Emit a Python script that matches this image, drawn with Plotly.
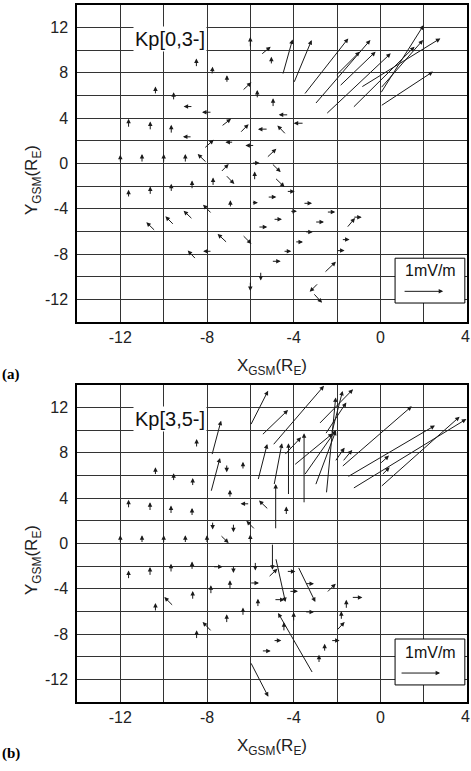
import plotly.graph_objects as go

# ---------------- data (tail x, tail y, dx, dy in axis units R_E) ----------------
# Panel (a) Kp[0,3-]
a_x = [-8.49, -7.77, -7.08, -10.38, -9.54, -8.65, -7.77, -11.62, -10.62, -9.65,
       -7.35, -8.69, -8.15, -6.77, -12.0, -11.0, -10.0, -9.0, -8.0, -7.38,
       -7.15, -11.62, -10.62, -9.65, -8.69, -7.72, -6.92, -7.77, -8.65, -9.51,
       -10.37, -7.05, -8.49, -7.77,
       -6.0, -5.52, -5.03, -6.38, -5.68, -4.95, -4.23, -3.52, -6.49, -5.18,
       -4.34, -5.8, -5.26, -5.95, -5.03, -5.8, -4.88, -4.34, -5.22, -5.95,
       -3.57, -4.18, -2.49, -4.95, -3.03, -1.56, -1.27, -5.65, -3.49, -6.38,
       -3.95, -1.8, -4.49, -2.06, -5.03, -2.6, -5.52, -6.0, -2.85, -3.11,
       -4.51, -4.0, -3.53, -3.03, -2.52, -2.08, -1.9, -1.29, 0.0, 0.0, -0.9, 0.0]
a_y = [8.45, 7.81, 7.07, 6.05, 5.52, 5.02, 4.52, 3.11, 2.88, 2.59,
       3.26, 2.35, 1.30, 1.88, 0.04, 0.04, 0.04, 0.04, 0.04, -0.79,
       -0.99, -3.04, -2.81, -2.55, -2.31, -2.02, -3.92, -4.45, -4.95, -5.45,
       -5.98, -7.03, -8.47, -7.74,
       10.2, 9.57, 8.69, 6.40, 5.70, 4.93, 4.29, 3.55, 2.67, 3.03,
       2.53, 1.59, 0.48, 0.04, 0.04, -1.52, -1.23, -2.46, -2.96, -3.45,
       -3.51, -4.22, -4.28, -4.92, -5.16, -5.70, -4.73, -5.6, -6.03, -6.27,
       -6.91, -6.71, -7.74, -7.68, -8.62, -9.66, -9.5, -10.38, -10.52, -11.4,
       7.80, 7.07, 6.04, 5.20, 4.32, 7.70, 6.78, 4.87, 5.05, 6.15, 6.7, 6.6]
a_u = [0.0, 0.03, 0.0, 0.0, 0.0, -0.43, -0.46, 0.0, 0.0, 0.0,
       0.46, -0.42, 0.46, -0.38, 0.0, 0.0, 0.0, 0.0, -0.43, 0.38,
       0.41, 0.0, 0.0, 0.0, 0.0, 0.0, 0.0, -0.41, -0.43, -0.41,
       -0.43, -0.46, -0.40, -0.41,
       0.0, 0.46, 0.0, 0.43, 0.0, 0.0, -0.46, -0.48, 0.41, -0.47,
       -0.41, -0.43, 0.46, 0.38, 0.43, 0.0, 0.46, 0.39, 0.42, 0.30,
       0.42, 0.33, 0.41, 0.41, 0.43, 0.39, 0.41, 0.43, 0.37, 0.43,
       0.38, 0.38, 0.38, 0.41, 0.43, 0.55, 0.0, 0.0, -0.41, 0.42,
       0.46, 0.83, 2.05, 2.57, 3.0, 1.13, 1.68, 2.87, 2.43, 2.0, 3.67, 1.97]
a_v = [0.8, 0.73, 0.72, 0.73, 0.76, 0.0, 0.0, 0.83, 0.82, 0.82,
       0.68, 0.0, 0.79, 0.0, 0.73, 0.8, 0.8, 0.8, 0.79, 0.74,
       -0.82, 0.73, 0.79, 0.76, 0.82, 0.79, 0.69, 0.82, 0.79, 0.79,
       0.8, 0.82, 0.79, 0.0,
       0.95, 0.73, 0.73, 0.76, 0.79, 0.82, 0.0, 0.0, 0.80, 0.0,
       0.82, 0.0, 0.82, 0.0, -0.8, 0.82, -0.85, 0.0, 0.0, 0.0,
       0.0, 0.0, 0.0, 0.0, 0.0, 0.89, 0.0, 0.0, 0.0, -0.82,
       0.0, 0.0, 0.0, 0.0, 0.0, 1.0, -0.82, -0.87, -0.79, -0.88,
       3.14, 3.81, 4.99, 5.69, 5.39, 2.15, 3.08, 5.43, 3.05, 6.05, 4.33, 4.29]

# Panel (b) Kp[3,5-]
b_x = [-7.78, -7.82, -8.48, -7.09, -6.94, -10.38, -9.54, -8.66, -11.62, -10.63,
       -9.66, -8.69, -7.74, -6.78, -7.4, -12.0, -11.0, -10.0, -9.0, -8.0,
       -11.62, -10.63, -9.66, -8.69, -7.74, -6.78, -6.94, -7.82, -8.66, -9.54,
       -10.38, -7.09, -7.77, -8.48,
       -6.0, -5.49, -4.98, -5.65, -4.91, -4.83, -4.24, -4.45, -3.52, -4.0,
       -3.52, -3.0, -2.85, -2.55, -2.25, -2.49, -6.34, -6.03, -5.15, -4.34,
       -5.77, -6.0, -4.98, -5.18, -4.83, -5.77, -6.03, -4.34, -4.22, -3.8,
       -3.49, -2.49, -5.65, -4.91, -6.34, -4.0, -3.49, -4.45, -3.11, -1.57,
       -1.8, -2.03, -4.95, -5.49, -2.29, -2.57, -2.83, -6.0, -1.34,
       -1.8, -1.54, -1.29, 0.0, -0.03, 0.05, -2.1, -1.75]
b_y = [7.75, 4.52, 8.42, 7.01, 4.0, 5.99, 5.46, 5.02, 3.06, 2.82,
       2.56, 2.38, 1.97, 1.79, 0.77, 0.0, 0.0, 0.0, 0.0, 0.0,
       -3.19, -2.9, -2.6, -2.37, -2.05, -1.88, -4.07, -4.51, -5.0, -5.54,
       -6.04, -7.06, -7.79, -8.47,
       10.39, 9.51, 8.62, 5.55, 5.11, 1.21, 4.23, 7.75, 3.5, 6.87,
       5.99, 5.1, 10.5, 9.6, 9.7, 4.38, 6.48, 3.5, 2.97, 2.47,
       1.2, 0.03, 0.03, -3.0, -1.26, -1.58, -3.48, -2.46, -4.22, -2.02,
       -3.54, -4.36, -5.65, -4.95, -6.42, -6.91, -6.03, -7.79, -11.46, -5.8,
       -6.77, -7.71, -8.56, -9.47, -8.56, -9.58, -10.58, -10.43, -4.75,
       6.72, 5.84, 4.82, 4.96, 7.0, 6.0, 7.2, 7.2]
b_u = [0.43, 0.42, 0.0, 0.0, 0.0, 0.0, 0.0, 0.0, 0.0, 0.0,
       0.0, 0.0, 0.0, 0.0, 0.4, 0.0, 0.0, 0.0, 0.0, 0.0,
       0.0, 0.0, 0.0, 0.0, 0.46, 0.0, 0.0, 0.0, 0.0, -0.43,
       0.0, 0.0, -0.43, 0.0,
       0.82, 1.23, 2.38, 0.43, 0.37, 0.0, 0.0, 0.79, 0.0, 1.8,
       1.47, 0.95, 1.59, 0.98, 0.51, 0.43, 0.0, -0.42, -0.45, 0.0,
       -0.41, 0.0, 0.0, 0.43, 0.45, 0.0, 0.43, 0.42, 0.42, 0.8,
       0.43, 0.43, 0.0, 0.49, 0.0, 0.0, 0.43, 0.0, -1.61, 0.0,
       0.0, 0.38, 0.38, 0.43, 0.41, 0.0, 0.0, 0.83, 0.51,
       3.25, 4.06, 5.26, 3.66, 0.43, 0.38, 0.45, 0.45]
b_v = [3.08, 3.02, 0.79, -0.73, 0.73, 0.73, 0.73, 0.76, 0.79, 0.82,
       0.79, 0.76, -0.73, -0.79, -0.73, 0.73, 0.73, 0.73, 0.73, 0.73,
       0.82, 0.82, 0.82, 0.79, 0.0, -0.73, 0.82, 0.82, 0.82, 0.82,
       0.79, 0.82, 0.88, 0.82,
       3.08, 2.26, 5.28, 3.22, 3.72, 4.04, 4.6, 1.61, 6.21, 2.83,
       4.0, 4.85, 3.1, 2.84, 3.75, 8.5, 0.73, 0.0, 0.82, 0.79,
       0.8, 0.77, -2.35, 0.78, -3.9, -0.79, 0.0, 0.0, 0.0, -3.14,
       0.0, 0.82, 0.79, 0.0, 0.77, 0.84, 0.0, 0.84, 5.34, 0.85,
       0.8, 0.8, 0.0, 0.0, 0.0, 0.75, 0.78, -3.08, 0.0,
       5.38, 4.56, 6.15, 6.22, 0.75, 0.72, 1.25, 1.05]

panel_labels = ["Kp[0,3-]", "Kp[3,5-]"]
x_ticks = [-12, -8, -4, 0, 4]
y_ticks = [12, 8, 4, 0, -4, -8, -12]
scale_label = "1mV/m"
scale_len = 1.85  # axis units of the 1 mV/m reference arrow

# ---------------- figure ----------------
W, H = 471, 771
FONT = "Liberation Sans, Arial, sans-serif"
fig = go.Figure()

xdom = [77 / W, 467 / W]
ydoms = [[1 - 322.3 / H, 1 - 4.7 / H], [1 - 702.3 / H, 1 - 384.7 / H]]
# the last x tick label sits on the page edge; it is drawn right-anchored at the edge
inner_x_ticks = x_ticks[:-1]

for i in range(2):
    sfx = "" if i == 0 else str(i + 1)
    fig.add_trace(go.Scatter(x=[None], y=[None], xaxis="x" + sfx, yaxis="y" + sfx,
                             showlegend=False, hoverinfo="skip"))
    common = dict(showline=True, mirror=True, linecolor="black", linewidth=1.5,
                  showgrid=True, gridcolor="#333333", gridwidth=1, zeroline=False,
                  ticks="", tickfont=dict(family=FONT, size=16, color="#222"),
                  minor=dict(dtick=2, tick0=0, showgrid=True, gridcolor="#333333", gridwidth=1))
    fig.update_layout({
        "xaxis" + sfx: dict(domain=xdom, range=[-14, 4], anchor="y" + sfx,
                            tickmode="array", tickvals=inner_x_ticks,
                            ticktext=[str(v) for v in inner_x_ticks], **common),
        "yaxis" + sfx: dict(domain=ydoms[i], range=[-14, 14], anchor="x" + sfx,
                            tickmode="array", tickvals=y_ticks,
                            ticktext=[str(v) for v in y_ticks], ticklabelstandoff=4,
                            **common),
    })

annotations = []
shapes = []
panels = [(a_x, a_y, a_u, a_v), (b_x, b_y, b_u, b_v)]
for i, (px, py, pu, pv) in enumerate(panels):
    xr = "x" if i == 0 else "x2"
    yr = "y" if i == 0 else "y2"
    for x0, y0, u, v in zip(px, py, pu, pv):
        annotations.append(dict(x=x0 + u, y=y0 + v, ax=x0, ay=y0, xref=xr, yref=yr,
                                axref=xr, ayref=yr, text="", showarrow=True,
                                arrowhead=2, arrowsize=0.9, arrowwidth=1,
                                arrowcolor="#1a1a1a", standoff=0, startstandoff=0))
    # panel label
    annotations.append(dict(x=-9.72, y=11.0, xref=xr, yref=yr, text=panel_labels[i],
                            showarrow=False, bgcolor="white", borderpad=1,
                            xanchor="center", yanchor="middle",
                            font=dict(family=FONT, size=20, color="#111")))
    # scale box
    box_y = [(-8.35, -12.3), (-8.42, -12.47)][i]
    shapes.append(dict(type="rect", xref=xr, yref=yr, x0=0.68, x1=3.9,
                       y0=box_y[1], y1=box_y[0], fillcolor="white",
                       line=dict(color="black", width=1), layer="above"))
    ty = [-9.45, -9.6][i]
    annotations.append(dict(x=2.3, y=ty, xref=xr, yref=yr, text=scale_label,
                            showarrow=False, xanchor="center", yanchor="middle",
                            font=dict(family=FONT, size=16, color="#111")))
    ay_ = [-11.27, -11.42][i]
    ax0 = [1.05, 0.91][i]
    annotations.append(dict(x=ax0 + scale_len, y=ay_, ax=ax0, ay=ay_, xref=xr, yref=yr,
                            axref=xr, ayref=yr, text="", showarrow=True, arrowhead=2,
                            arrowsize=0.9, arrowwidth=1, arrowcolor="#1a1a1a", standoff=0))

    # last x tick label at the page edge
    xl_py = [336.5, 716.5][i]
    annotations.append(dict(x=1.0, y=1 - xl_py / H, xref="paper", yref="paper",
                            xanchor="right", yanchor="middle", text=str(x_ticks[-1]),
                            showarrow=False, borderpad=0,
                            font=dict(family=FONT, size=16, color="#222")))

    # axis titles
    xt_py = [367, 747][i]
    annotations.append(dict(x=272 / W, y=1 - xt_py / H, xref="paper", yref="paper",
                            xanchor="center", yanchor="middle",
                            text="X<sub>GSM</sub>(R<sub>E</sub>)", showarrow=False,
                            font=dict(family=FONT, size=17, color="#222")))
    yt_py = [180, 560][i]
    annotations.append(dict(x=20 / W, y=1 - yt_py / H, xref="paper", yref="paper",
                            xanchor="left", yanchor="middle",
                            text="Y<sub>GSM</sub>(R<sub>E</sub>)", showarrow=False,
                            textangle=-90, font=dict(family=FONT, size=17, color="#222")))
    lab_py = [374, 753][i]
    annotations.append(dict(x=0, y=1 - lab_py / H, xref="paper", yref="paper",
                            xanchor="left", yanchor="middle",
                            text="<b>(%s)</b>" % ("a" if i == 0 else "b"), showarrow=False,
                            font=dict(family="Liberation Serif, Times New Roman, serif",
                                      size=15, color="black")))

fig.update_layout(width=W, height=H, margin=dict(l=0, r=0, t=0, b=0),
                  paper_bgcolor="white", plot_bgcolor="white",
                  annotations=annotations, shapes=shapes, showlegend=False)

fig.write_html("out.html")
